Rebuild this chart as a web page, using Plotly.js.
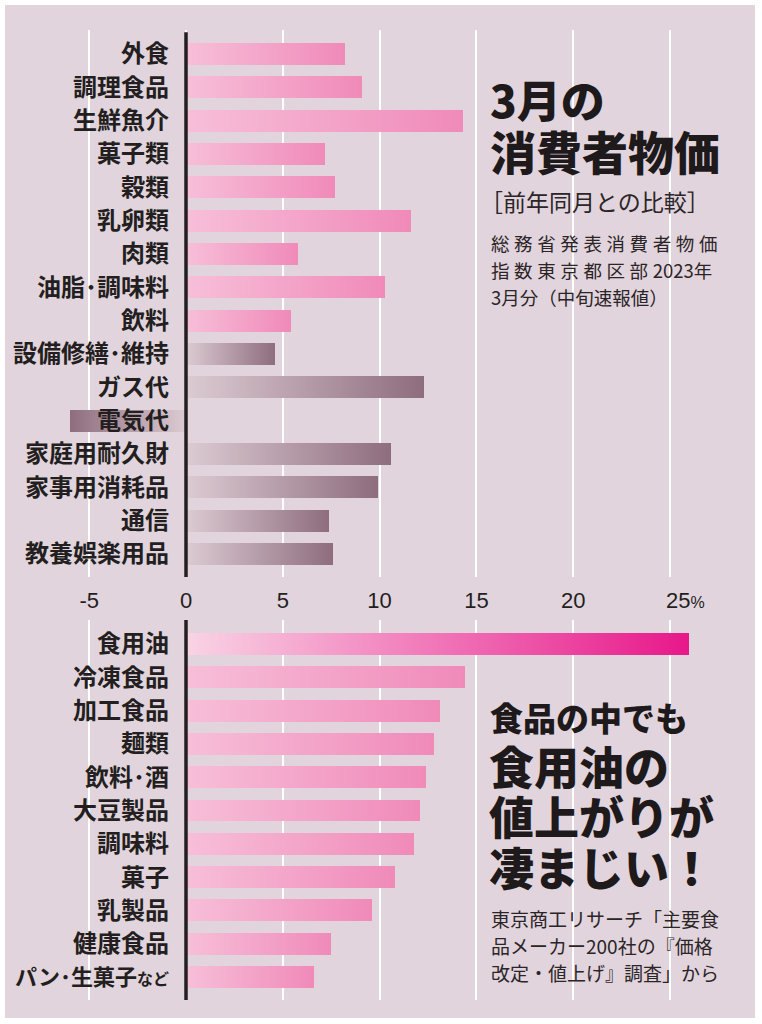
<!DOCTYPE html>
<html>
<head>
<meta charset="utf-8">
<script src="https://cdn.plot.ly/plotly-3.0.1.min.js"></script>
<style>
  html, body { margin: 0; padding: 0; background: #ffffff; }
  #chart { position: absolute; left: 5px; top: 5px; width: 750px; height: 1013px; }
</style>
</head>
<body>
<div id="chart"></div>
<script>
// ---- data ----
const topCategories = ['外食', '調理食品', '生鮮魚介', '菓子類', '穀類', '乳卵類', '肉類', '油脂･調味料', '飲料',
  '設備修繕･維持', 'ガス代', '電気代', '家庭用耐久財', '家事用消耗品', '通信', '教養娯楽用品'];
const topValues = [8.2, 9.1, 14.3, 7.2, 7.7, 11.6, 5.8, 10.3, 5.4, 4.6, 12.3, -6.0, 10.6, 9.9, 7.4, 7.6];
const topGroup = ['food', 'food', 'food', 'food', 'food', 'food', 'food', 'food', 'food',
  'housing', 'housing', 'housing', 'housing', 'housing', 'housing', 'housing'];

const bottomCategories = ['食用油', '冷凍食品', '加工食品', '麺類', '飲料･酒', '大豆製品', '調味料', '菓子', '乳製品', '健康食品', 'パン･生菓子など'];
const bottomLabels = ['食用油', '冷凍食品', '加工食品', '麺類', '飲料･酒', '大豆製品', '調味料', '菓子', '乳製品', '健康食品',
  '<span style="font-size:22px">パン･生菓子</span><span style="font-size:16px">など</span>'];
const bottomValues = [26.0, 14.4, 13.1, 12.8, 12.4, 12.1, 11.8, 10.8, 9.6, 7.5, 6.6];
const bottomGroup = ['oil', 'food', 'food', 'food', 'food', 'food', 'food', 'food', 'food', 'food', 'food'];

const xTickVals = [-5, 0, 5, 10, 15, 20];
const xTickText = ['-5', '0', '5', '10', '15', '20'];
const lastTick = 25;
const lastTickText = '25<span style="font-size:16px">%</span>';

// ---- styles ----
const groupColor = { food: '#f08cbb', housing: '#8d6d7e', oil: '#e81c8b' };
const gradStops = {
  food: ['#f7bfd9', '#f08ab9'],
  oil: ['#f9d4e5', '#e8178a'],
  housing: ['#dccbd3', '#8e6d7e']
};
const W = 750, H = 1013, OX = 5, OY = 5;
const px = x => (x - OX) / W;
const py = y => 1 - (y - OY) / H;

const catFont = { family: '"Noto Sans CJK JP", "Noto Sans", sans-serif', size: 24, color: '#231f20', weight: 700 };
const numFont = { family: '"Liberation Sans", Arial, sans-serif', size: 22, color: '#231f20' };
const bgColor = '#e2d4dd';

const data = [
  {
    type: 'bar', orientation: 'h',
    y: topCategories, x: topValues,
    xaxis: 'x', yaxis: 'y',
    width: 0.66,
    marker: { color: topGroup.map(g => groupColor[g]), line: { width: 0 } },
    hoverinfo: 'skip'
  },
  {
    type: 'bar', orientation: 'h',
    y: bottomCategories, x: bottomValues,
    xaxis: 'x2', yaxis: 'y2',
    width: 0.66,
    marker: { color: bottomGroup.map(g => groupColor[g]), line: { width: 0 } },
    hoverinfo: 'skip'
  }
];

const xRange = [-181 / 19.36, (750 - 181) / 19.36];
const yPos = 181 / 750;

const heavy = { family: '"Noto Sans CJK JP", sans-serif', color: '#1e1a1b', weight: 900 };
const light = { family: '"Noto Sans CJK JP", sans-serif', color: '#2a2526', weight: 400 };

function ann(text, x, y, font, extra) {
  return Object.assign({ text, x: px(x), y: py(y), xref: 'paper', yref: 'paper', xanchor: 'left', yanchor: 'middle', showarrow: false, font }, extra || {});
}

const annotations = [
  ann('3月の', 488, 99, Object.assign({ size: 44 }, heavy)),
  ann('消費者物価', 488, 150, Object.assign({ size: 46 }, heavy)),
  ann('［前年同月との比較］', 478, 201, Object.assign({ size: 23 }, light)),
  ann('<span style="letter-spacing:4.6px">総務省発表消費者物価</span>', 489, 243, Object.assign({ size: 18.5 }, light)),
  ann('<span style="letter-spacing:4.6px">指数東京都区部</span>2023年', 489, 270, Object.assign({ size: 18.5 }, light)),
  ann('3月分（中旬速報値）', 489, 297, Object.assign({ size: 18.5 }, light)),

  ann('食品の中でも', 488, 717, Object.assign({ size: 33 }, heavy)),
  ann('食用油の', 487, 765, Object.assign({ size: 45 }, heavy)),
  ann('値上がりが', 487, 815, Object.assign({ size: 45 }, heavy)),
  ann('凄まじい！', 487, 866, Object.assign({ size: 45 }, heavy)),
  ann('東京商工リサーチ「主要食', 489, 918, Object.assign({ size: 19 }, light)),
  ann('品メーカー200社の『価格', 489, 945, Object.assign({ size: 19 }, light)),
  ann('改定・値上げ』調査」から', 489, 972, Object.assign({ size: 19 }, light)),

  { text: lastTickText, x: lastTick, xref: 'x', y: py(600), yref: 'paper', xanchor: 'left', yanchor: 'middle', xshift: -6,
    showarrow: false, font: numFont }
];

const layout = {
  width: W, height: H,
  margin: { l: 0, r: 0, t: 0, b: 0, pad: 0 },
  paper_bgcolor: bgColor,
  plot_bgcolor: 'rgba(0,0,0,0)',
  showlegend: false,
  bargap: 0,
  xaxis: {
    domain: [0, 1], range: xRange, anchor: 'y',
    showgrid: true, gridcolor: '#ffffff', gridwidth: 2, zeroline: false,
    tickmode: 'array', tickvals: xTickVals.concat([lastTick]), ticktext: xTickText.concat(['']),
    ticks: '', ticklabelstandoff: 8, tickfont: numFont, fixedrange: true
  },
  yaxis: {
    domain: [py(577), py(30)], type: 'category', categoryorder: 'array', categoryarray: topCategories,
    range: [15.69, -0.72], anchor: 'free', position: yPos,
    showgrid: false, zeroline: false, showline: false, ticks: '',
    ticklabelstandoff: 17, tickfont: catFont, fixedrange: true
  },
  xaxis2: {
    domain: [0, 1], range: xRange, anchor: 'y2',
    showgrid: true, gridcolor: '#ffffff', gridwidth: 2, zeroline: false,
    tickmode: 'array', tickvals: xTickVals.concat([lastTick]),
    showticklabels: false, ticks: '', fixedrange: true
  },
  yaxis2: {
    domain: [py(1000), py(620)], type: 'category', categoryorder: 'array', categoryarray: bottomCategories,
    tickmode: 'array', tickvals: bottomCategories, ticktext: bottomLabels,
    range: [10.69, -0.72], anchor: 'free', position: yPos,
    showgrid: false, zeroline: false, showline: false, ticks: '',
    ticklabelstandoff: 17, tickfont: catFont, fixedrange: true
  },
  shapes: [
    { type: 'line', xref: 'x', yref: 'y domain', x0: 0, x1: 0, y0: 0, y1: 0.996, line: { color: '#231f20', width: 3.5 }, layer: 'above' },
    { type: 'line', xref: 'x2', yref: 'y2 domain', x0: 0, x1: 0, y0: 0, y1: 1, line: { color: '#231f20', width: 3.5 }, layer: 'above' }
  ],
  annotations
};

const gd = document.getElementById('chart');
Plotly.newPlot(gd, data, layout, { staticPlot: true, displayModeBar: false }).then(() => {
  const NS = 'http://www.w3.org/2000/svg';
  const svg = gd.querySelector('svg.main-svg');
  let defs = svg.querySelector('defs');
  if (!defs) { defs = document.createElementNS(NS, 'defs'); svg.insertBefore(defs, svg.firstChild); }
  function makeGrad(id, c0, c1, reverse) {
    const g = document.createElementNS(NS, 'linearGradient');
    g.setAttribute('id', id);
    g.setAttribute('x1', reverse ? '1' : '0'); g.setAttribute('x2', reverse ? '0' : '1');
    g.setAttribute('y1', '0'); g.setAttribute('y2', '0');
    [[0, c0], [1, c1]].forEach(([o, c]) => {
      const s = document.createElementNS(NS, 'stop');
      s.setAttribute('offset', o); s.setAttribute('stop-color', c);
      g.appendChild(s);
    });
    defs.appendChild(g);
  }
  Object.keys(gradStops).forEach(k => {
    makeGrad('g-' + k, gradStops[k][0], gradStops[k][1], false);
    makeGrad('g-' + k + '-neg', gradStops[k][0], gradStops[k][1], true);
  });
  const traces = gd.querySelectorAll('.trace.bars');
  const sets = [[topGroup, topValues], [bottomGroup, bottomValues]];
  traces.forEach((tr, ti) => {
    const [groups, vals] = sets[ti] || sets[0];
    tr.querySelectorAll('.point').forEach((pt, i) => {
      const path = pt.querySelector('path');
      if (!path) return;
      const id = 'g-' + groups[i] + (vals[i] < 0 ? '-neg' : '');
      path.style.fill = 'url(#' + id + ')';
    });
  });
});
</script>
</body>
</html>
